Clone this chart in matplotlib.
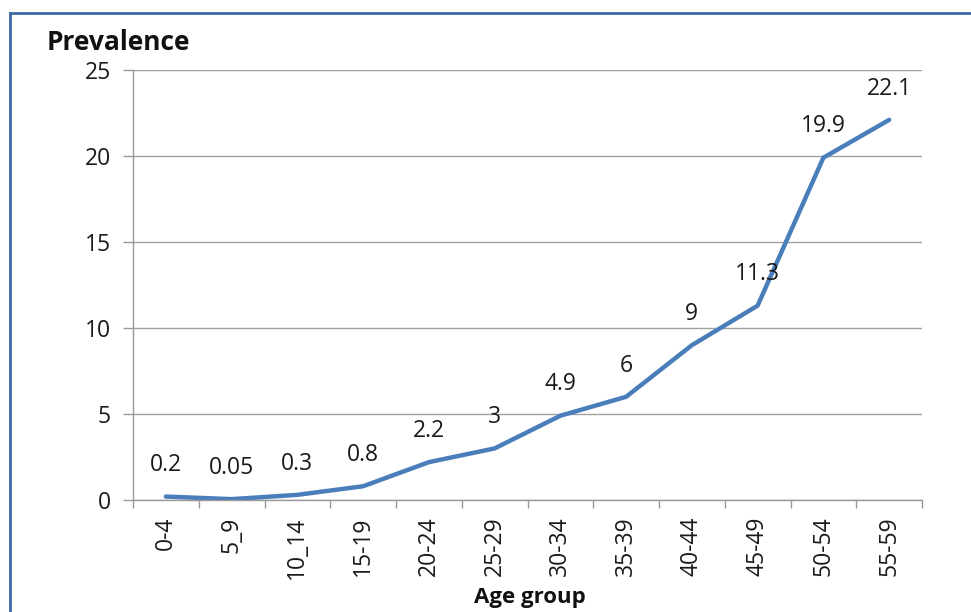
import matplotlib.pyplot as plt
from matplotlib.lines import Line2D
import numpy as np

age_groups = ['0-4', '5_9', '10_14', '15-19', '20-24', '25-29',
              '30-34', '35-39', '40-44', '45-49', '50-54', '55-59']
prevalence = [0.2, 0.05, 0.3, 0.8, 2.2, 3, 4.9, 6, 9, 11.3, 19.9, 22.1]
value_labels = ['0.2', '0.05', '0.3', '0.8', '2.2', '3', '4.9', '6', '9', '11.3', '19.9', '22.1']

plt.rcParams['font.family'] = ['Open Sans', 'DejaVu Sans']

fig = plt.figure(figsize=(9.71, 6.12), dpi=100)
ax = fig.add_axes([133 / 971, 1 - 500 / 612, (922 - 133) / 971, 430 / 612])

x = np.arange(len(age_groups))
ax.plot(x, prevalence, color='#4A7EBB', linewidth=3.2, solid_capstyle='round')

for xi, yi, lab in zip(x, prevalence, value_labels):
    ax.annotate(lab, (xi, yi), xytext=(0, 22.5), textcoords='offset points',
                ha='center', va='center', fontsize=16.5, color='#1a1a1a')

ax.set_xlim(-0.5, len(age_groups) - 0.5)
ax.set_ylim(0, 25)
ax.set_yticks(range(0, 26, 5))
ax.set_xticks(x)
ax.set_xticklabels(age_groups, rotation=90, fontsize=16.5, color='#1a1a1a')
ax.set_xticks(np.arange(-0.5, len(age_groups), 1), minor=True)
ax.tick_params(axis='x', which='major', length=0, pad=12)
ax.tick_params(axis='x', which='minor', length=6, color='#999999', width=1)
ax.tick_params(axis='y', length=7, color='#999999', width=1, labelsize=16.5,
               labelcolor='#1a1a1a', pad=9)

ax.grid(axis='y', color='#a0a0a0', linewidth=1)
ax.set_axisbelow(True)
for side in ['top', 'right']:
    ax.spines[side].set_visible(False)
for side in ['left', 'bottom']:
    ax.spines[side].set_color('#999999')
    ax.spines[side].set_linewidth(1)

fig.text(47 / 971, 1 - 42 / 612, 'Prevalence', fontsize=19, fontweight='bold',
         ha='left', va='center', color='#111111')
fig.text(530 / 971, 1 - 597 / 612, 'Age group', fontsize=16, fontweight='bold',
         ha='center', va='center', color='#111111')

# outer chart frame (top and left edges)
fig.add_artist(Line2D([10 / 971, 10 / 971], [0, 1 - 13 / 612], transform=fig.transFigure,
                      color='#3f6aa0', linewidth=2))
fig.add_artist(Line2D([10 / 971, 1], [1 - 13 / 612, 1 - 13 / 612], transform=fig.transFigure,
                      color='#3f6aa0', linewidth=2))

fig.savefig('out.png', dpi=100)
